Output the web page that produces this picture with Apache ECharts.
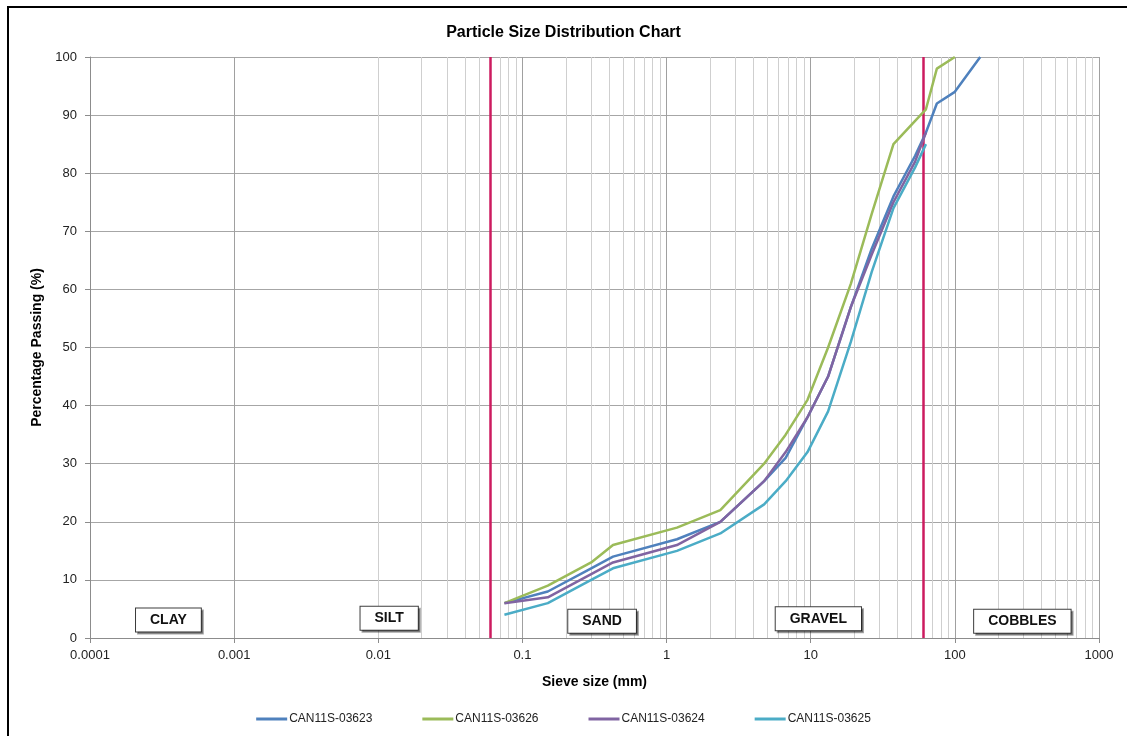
<!DOCTYPE html>
<html>
<head>
<meta charset="utf-8">
<title>Particle Size Distribution Chart</title>
<script src="https://cdn.jsdelivr.net/npm/echarts@6/dist/echarts.min.js"></script>
<style>
  html, body { margin: 0; padding: 0; background: #ffffff; }
  #chart { width: 1127px; height: 736px; }
</style>
</head>
<body>
<div id="chart"></div>
<script>
// Sieve sizes (mm) used by the grading tests
const sieveSizes = [0.075, 0.15, 0.3, 0.425, 1.18, 2.36, 4.75, 6.7, 9.5, 13.2, 19, 26.5, 37.5, 53, 63, 75, 100, 150];

// Percentage passing for each sample (null where a sieve was not reported)
const seriesNames = ['CAN11S-03623', 'CAN11S-03626', 'CAN11S-03624', 'CAN11S-03625'];
const pass03623 = [6, 8, 12, 14, 17, 20, 27, 31, 38, 45, 57, 67, 76, 83, 87, 92, 94, 100];
const pass03626 = [6, 9, 13, 16, 19, 22, 30, 35, 41, 50, 61, 73, 85, 89, 91, 98, 100, null];
const pass03624 = [6, 7, 11, 13, 16, 20, 27, 32, 38, 45, 57, 66, 75, 82, 87, null, null, null];
const pass03625 = [4, 6, 10, 12, 15, 18, 23, 27, 32, 39, 51, 63, 74, 81, 85, null, null, null];

// Soil class boundaries (mm) and class label anchors
const boundarySizes = [0.06, 60];
const zoneNames = ['CLAY', 'SILT', 'SAND', 'GRAVEL', 'COBBLES'];
const zoneSizes = [0.00035, 0.0119, 0.357, 11.3, 294];
const zoneLevels = [3.1, 3.4, 2.9, 3.3, 2.9];

// Axis tick labels
const sizeTickLabels = ['0.0001', '0.001', '0.01', '0.1', '1', '10', '100', '1000'];
const passTickLabels = ['0', '10', '20', '30', '40', '50', '60', '70', '80', '90', '100'];

const colors = ['#4f81bd', '#9bbb59', '#8064a2', '#4bacc6'];
const FONT = 'Liberation Sans, Arial, sans-serif';

function pairs(values) {
  const out = [];
  values.forEach(function (v, i) { if (v !== null) out.push([sieveSizes[i], v]); });
  return out;
}

// Minor log grid lines at 2..9 of each decade
const minorLines = [];
for (let e = -4; e < 3; e++) {
  for (let m = 2; m <= 9; m++) {
    minorLines.push({ xAxis: +(m * Math.pow(10, e)).toPrecision(6) });
  }
}

const chart = echarts.init(document.getElementById('chart'), null, { renderer: 'canvas' });

const sampleValues = [pass03623, pass03626, pass03624, pass03625];
const lineSeries = seriesNames.map(function (name, i) {
  return {
    name: name,
    type: 'line',
    data: pairs(sampleValues[i]),
    showSymbol: false,
    symbol: 'none',
    z: 5,
    lineStyle: { color: colors[i], width: 2.5 },
    itemStyle: { color: colors[i] }
  };
});

chart.setOption({
  animation: false,
  backgroundColor: '#ffffff',
  textStyle: { fontFamily: FONT },
  title: {
    text: 'Particle Size Distribution Chart',
    left: 'center',
    top: 20,
    textStyle: { fontFamily: FONT, fontSize: 16, fontWeight: 'bold', color: '#000' }
  },
  grid: { left: 90, right: 28, top: 57, bottom: 98 },
  legend: {
    data: seriesNames,
    bottom: 6,
    left: 'center',
    icon: 'rect',
    itemWidth: 31,
    itemHeight: 3,
    itemGap: 50,
    textStyle: { fontFamily: FONT, fontSize: 12, color: '#222', padding: [0, 0, 0, -3] }
  },
  xAxis: {
    type: 'log',
    logBase: 10,
    min: 0.0001,
    max: 1000,
    name: 'Sieve size (mm)',
    nameLocation: 'middle',
    nameGap: 37,
    nameTextStyle: { fontFamily: FONT, fontSize: 14, fontWeight: 'bold', color: '#000' },
    axisLine: { show: true, lineStyle: { color: '#8c8c8c', width: 1 } },
    axisTick: { show: true, length: 5, lineStyle: { color: '#8c8c8c' } },
    axisLabel: {
      fontFamily: FONT, fontSize: 13, color: '#222', margin: 11,
      formatter: function (v) {
        const idx = Math.round(Math.log10(v)) + 4;
        return sizeTickLabels[idx] !== undefined ? sizeTickLabels[idx] : '';
      }
    },
    splitLine: { show: true, lineStyle: { color: '#a0a0a0', width: 1 } }
  },
  yAxis: {
    type: 'value',
    min: 0,
    max: 100,
    interval: 10,
    name: 'Percentage Passing (%)',
    nameLocation: 'middle',
    nameGap: 45,
    nameTextStyle: { fontFamily: FONT, fontSize: 14, fontWeight: 'bold', color: '#000' },
    axisLine: { show: true, lineStyle: { color: '#8c8c8c', width: 1 } },
    axisTick: { show: true, length: 5, lineStyle: { color: '#8c8c8c' } },
    axisLabel: {
      fontFamily: FONT, fontSize: 13, color: '#222', margin: 13,
      formatter: function (v) { return passTickLabels[Math.round(v / 10)]; }
    },
    splitLine: { show: true, lineStyle: { color: '#a6a6a6', width: 1 } }
  },
  graphic: [{
    type: 'rect',
    silent: true,
    shape: { x: 8, y: 7, width: 1140, height: 760 },
    style: { fill: 'none', stroke: '#000', lineWidth: 2 }
  }],
  series: [
    {
      name: 'minor-grid',
      type: 'line',
      data: [],
      silent: true,
      z: 1,
      markLine: {
        silent: true,
        symbol: ['none', 'none'],
        label: { show: false },
        animation: false,
        lineStyle: { color: '#cfcfcf', width: 1, type: 'solid' },
        data: minorLines
      }
    },
    {
      name: 'boundaries',
      type: 'line',
      data: [],
      silent: true,
      z: 3,
      markLine: {
        silent: true,
        symbol: ['none', 'none'],
        label: { show: false },
        animation: false,
        lineStyle: { color: '#cc1b5f', width: 2.5, type: 'solid' },
        data: boundarySizes.map(function (s) { return { xAxis: s }; })
      }
    }
  ].concat(lineSeries).concat([
    {
      name: 'zones',
      type: 'scatter',
      silent: true,
      symbolSize: 0,
      z: 10,
      itemStyle: { opacity: 1, color: '#ffffff' },
      data: zoneNames.map(function (n, i) { return { name: n, value: [zoneSizes[i], zoneLevels[i]] }; }),
      label: {
        show: true,
        position: 'inside',
        formatter: '{b}',
        fontFamily: FONT,
        fontSize: 14,
        fontWeight: 'bold',
        color: '#111',
        backgroundColor: '#ffffff',
        borderColor: '#3c3c3c',
        borderWidth: 1,
        padding: [5, 14, 4, 14],
        shadowColor: 'rgba(0,0,0,0.35)',
        shadowBlur: 0,
        shadowOffsetX: 2,
        shadowOffsetY: 2
      }
    }
  ])
});
</script>
</body>
</html>
